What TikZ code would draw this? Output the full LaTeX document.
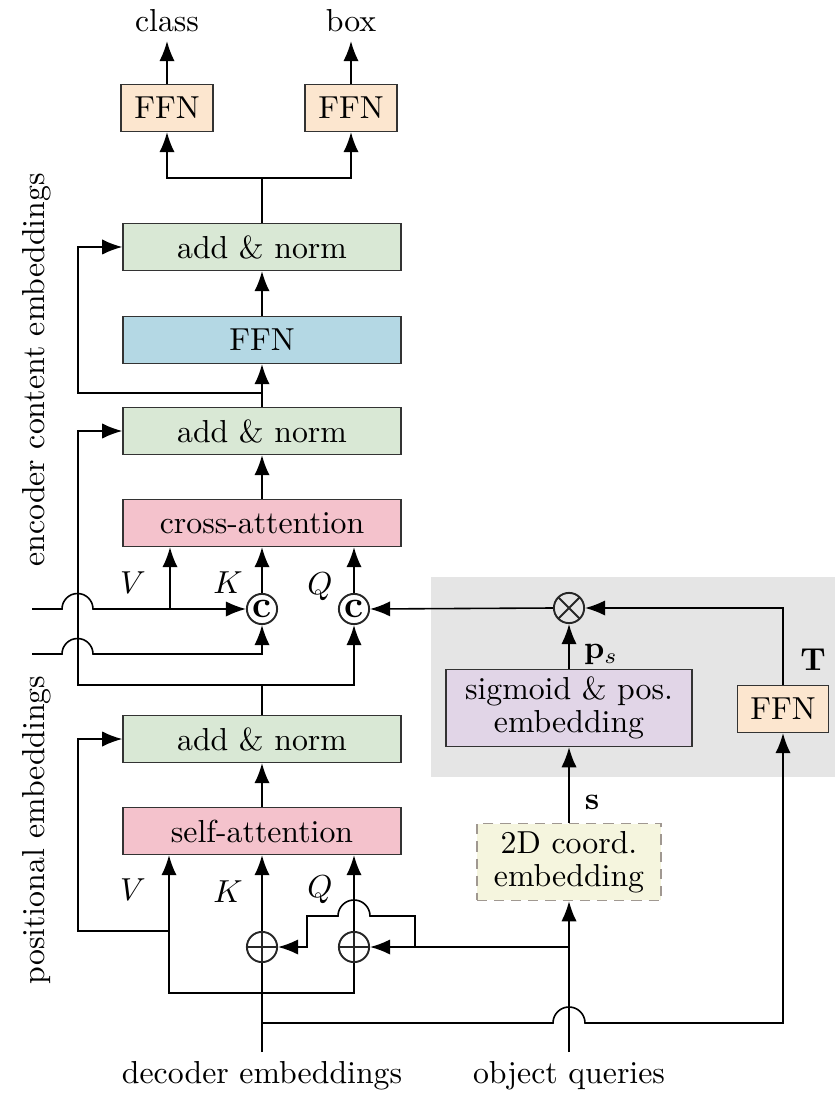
\documentclass[tikz,border=0pt]{standalone}
\usetikzlibrary{arrows.meta}

\definecolor{ffnorange}{RGB}{252,230,207}
\definecolor{addgreen}{RGB}{217,232,213}
\definecolor{ffnblue}{RGB}{180,216,228}
\definecolor{attnpink}{RGB}{244,194,204}
\definecolor{sigpurple}{RGB}{225,213,231}
\definecolor{coordyellow}{RGB}{245,245,222}
\definecolor{coordborder}{RGB}{160,152,145}

\tikzset{
    block/.style={draw=black!80, minimum width=87.4pt, minimum height=14.7pt, inner sep=0pt},
    headbox/.style={draw=black!80, fill=ffnorange, minimum width=29pt, minimum height=14.7pt, inner sep=0pt},
    twoline/.style={draw=black!80, align=center, minimum height=24.2pt, inner sep=0pt},
    lbl/.style={inner sep=2.5pt},
    opnode/.style={circle, draw=black!85, line width=0.6pt, minimum size=9.5pt, inner sep=0pt},
    catnode/.style={opnode, font=\fontsize{12}{12}\selectfont\bfseries},
    addnode/.style={opnode, path picture={
        \draw (path picture bounding box.north) -- (path picture bounding box.south)
              (path picture bounding box.west) -- (path picture bounding box.east);}},
    mulnode/.style={opnode, path picture={
        \draw (path picture bounding box.north west) -- (path picture bounding box.south east)
              (path picture bounding box.north east) -- (path picture bounding box.south west);}},
}

\begin{document}
\begin{tikzpicture}[x=0.3145pt, y=-0.3145pt, line width=0.5pt, >={Latex[length=6.3pt,width=4.8pt]}]
    \useasboundingbox (0,0) rectangle (835,1093);

    % positional part
    \fill[gray!20] (431,577) rectangle (835,777);

    % decoder layer
    \node[block, fill=addgreen] (an3) at (262,247) {add \& norm};
    \node[block, fill=ffnblue] (ffn) at (262,340) {FFN};
    \node[block, fill=addgreen] (an2) at (262,431) {add \& norm};
    \node[block, fill=attnpink] (ca) at (262,523) {cross-attention};
    \node[block, fill=addgreen] (an1) at (262,739) {add \& norm};
    \node[block, fill=attnpink] (sa) at (262,831) {self-attention};

    % prediction heads
    \node[headbox] (ffnc) at (167,108) {FFN};
    \node[headbox] (ffnb) at (351,108) {FFN};
    \node[lbl, anchor=base] (cls) at (167,32) {class};
    \node[lbl, anchor=base] (bx) at (351,32) {box};

    % concat / add / multiply
    \node[catnode] (catk) at (262,609) {c};
    \node[catnode] (catq) at (354,609) {c};
    \node[addnode] (addk) at (262,947) {};
    \node[addnode] (addq) at (354,947) {};
    \node[mulnode] (mul) at (569,608) {};

    \node[twoline, fill=sigpurple, minimum width=77.4pt] (sig) at (569,708) {sigmoid \& pos.\\[-1.6pt]embedding};
    \node[headbox, minimum width=28.6pt] (ffnt) at (783,709) {FFN};
    \node[twoline, fill=coordyellow, draw=coordborder, dash pattern=on 3.2pt off 2.2pt, minimum width=58pt] (coord) at (569,862) {2D coord.\\[-1.6pt]embedding};

    % inputs
    \node[lbl, anchor=base] (de) at (262,1083) {decoder embeddings};
    \node[lbl, anchor=base] (oq) at (569,1083) {object queries};
    \node[rotate=90] (enc) at (37,370) {encoder content embeddings};
    \node[rotate=90] (pos) at (37,830) {positional embeddings};

    % labels
    \node (vup) at (133,583) {$V$};
    \node (kup) at (228,583) {$K$};
    \node (qup) at (320,587) {$Q$};
    \node (vlo) at (133,890) {$V$};
    \node (klo) at (228,892) {$K$};
    \node (qlo) at (320,890) {$Q$};
    \node (ps) at (601,655) {$\mathbf{p}_s$};
    \node (tl) at (813,660) {$\mathbf{T}$};
    \node (sl) at (592,802) {$\mathbf{s}$};

    \coordinate (in1) at (32,609);
    \coordinate (in2) at (32,654);
    \coordinate (vk) at (170,609);
    \coordinate (j1) at (262,685);
    \coordinate (j2) at (262,393);
    \coordinate (j3) at (262,178);
    \coordinate (j4) at (569,947);
    \coordinate (j5) at (415,947);
    \coordinate (j6) at (262,993);
    \coordinate (vs) at (169,993);
    \coordinate (j7) at (169,931);
    \coordinate (j8) at (262,1023);

    % heads
    \draw (an3.north) -- (j3);
    \draw[->] (j3) -| (ffnc.south);
    \draw[->] (j3) -| (ffnb.south);
    \draw[->] (ffnc.north) -- (cls.south);
    \draw[->] (ffnb.north) -- (bx.south);

    % cross-attention part
    \draw[->] (ffn.north) -- (an3.south);
    \draw[->] (an2.north) -- (ffn.south);
    \draw[->] (j2) -- (78,393) |- (an3.west);
    \draw[->] (ca.north) -- (an2.south);
    \draw[->] (catk.north) -- (catk.north |- ca.south);
    \draw[->] (catq.north) -- (catq.north |- ca.south);
    \draw[->] (vk) -- (vk |- ca.south);
    \draw[->] (in1) -- (62,609) arc[start angle=180, end angle=360, radius=15.5] -- (catk.west);
    \draw[->] (in2) -- (62,654) arc[start angle=180, end angle=360, radius=15.5] -| (catk.south);
    \draw (an1.north) -- (j1);
    \draw[->] (j1) -| (catq.south);
    \draw[->] (j1) -- (78,685) |- (an2.west);

    % spatial query
    \draw[->] (mul.west) -- (catq.east);
    \draw[->] (sig.north) -- (mul.south);
    \draw[->] (ffnt.north) |- (mul.east);
    \draw[->] (coord.north) -- (sig.south);
    \draw[->] (oq.north) -- (coord.south);

    % self-attention part
    \draw[->] (sa.north) -- (an1.south);
    \draw[->] (addk.north) -- (addk.north |- sa.south);
    \draw[->] (addq.north) -- (addq.north |- sa.south);
    \draw (de.north) -- (addk.south);
    \draw[->] (j6) -- (vs) -- (vs |- sa.south);
    \draw (j6) -| (addq.south);
    \draw[->] (j7) -- (78,931) |- (an1.west);
    \draw[->] (j4) -- (addq.east);
    \draw[->] (j5) -- (415,916) -- (370,916) arc[start angle=0, end angle=-180, radius=16] -- (307,916) -- (307,947) -- (addk.east);
    \draw[->] (j8) -- (553,1023) arc[start angle=180, end angle=360, radius=16] -| (ffnt.south);
\end{tikzpicture}
\end{document}
